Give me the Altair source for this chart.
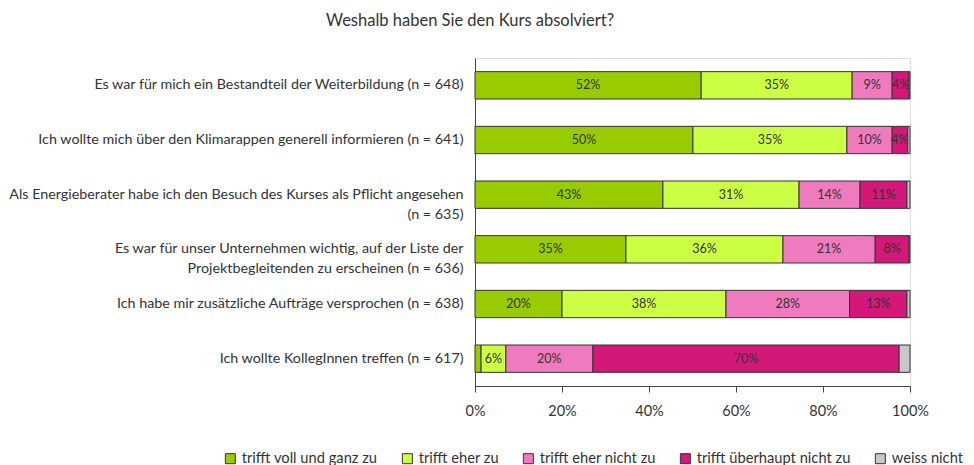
import altair as alt
import pandas as pd

questions = [
    "Es war für mich ein Bestandteil der Weiterbildung (n = 648)",
    "Ich wollte mich über den Klimarappen generell informieren (n = 641)",
    "Als Energieberater habe ich den Besuch des Kurses als Pflicht angesehen\n(n = 635)",
    "Es war für unser Unternehmen wichtig, auf der Liste der\nProjektbegleitenden zu erscheinen (n = 636)",
    "Ich habe mir zusätzliche Aufträge versprochen (n = 638)",
    "Ich wollte KollegInnen treffen (n = 617)",
]
categories = [
    "trifft voll und ganz zu",
    "trifft eher zu",
    "trifft eher nicht zu",
    "trifft überhaupt nicht zu",
    "weiss nicht",
]
colors = ["#99CC00", "#CCFF44", "#F07ABE", "#D4187A", "#C8C8C8"]

voll = [52.0, 50.1, 43.2, 34.7, 20.0, 1.4]
eher = [34.7, 35.4, 31.3, 36.1, 37.7, 5.7]
eher_nicht = [9.2, 10.4, 14.0, 21.2, 28.4, 20.0]
ueberhaupt = [3.9, 3.6, 10.8, 7.8, 13.2, 70.4]
weiss = [0.2, 0.5, 0.7, 0.2, 0.7, 2.5]

series = [voll, eher, eher_nicht, ueberhaupt, weiss]
rows = []
for ci, (cat, vals) in enumerate(zip(categories, series)):
    for qi, q in enumerate(questions):
        rows.append({"frage": q, "kategorie": cat, "ord": ci, "wert": vals[qi]})
df = pd.DataFrame(rows)

FONT = "Lato"
TXT = "#333333"

base = alt.Chart(df).transform_window(
    cum="sum(wert)", groupby=["frage"], sort=[alt.SortField("ord")]
).transform_calculate(
    mid="datum.cum - datum.wert / 2", label="round(datum.wert) + '%'"
)

y_enc = alt.Y(
    "frage:N",
    sort=questions,
    title=None,
    scale=alt.Scale(paddingInner=0.5, paddingOuter=0.25),
    axis=alt.Axis(
        labelExpr="split(datum.label, '\\n')",
        labelFont=FONT,
        labelFontSize=14.3,
        labelColor=TXT,
        labelLineHeight=20,
        labelPadding=12,
        labelLimit=700,
        ticks=False,
        domainColor="#444444",
    ),
)

bars = base.mark_bar(stroke="#333333", strokeWidth=1).encode(
    x=alt.X(
        "wert:Q",
        stack="zero",
        title=None,
        scale=alt.Scale(domain=[0, 100]),
        axis=alt.Axis(
            values=[0, 20, 40, 60, 80, 100],
            labelExpr="datum.value + '%'",
            labelFlush=False,
            grid=False,
            labelFont=FONT,
            labelFontSize=14.5,
            labelColor=TXT,
            tickColor="#444444",
            domainColor="#444444",
            tickSize=6,
            labelPadding=12,
        ),
    ),
    y=y_enc,
    color=alt.Color(
        "kategorie:N",
        sort=categories,
        scale=alt.Scale(domain=categories, range=colors),
        legend=alt.Legend(
            title=None,
            orient="none",
            direction="horizontal",
            legendX=-252,
            legendY=393,
            symbolType="square",
            symbolSize=100,
            symbolStrokeColor="#333333",
            symbolStrokeWidth=1,
            labelFont=FONT,
            labelFontSize=14.7,
            labelColor=TXT,
            labelOffset=4,
            columnPadding=22,
            padding=0,
        ),
    ),
    order=alt.Order("ord:Q"),
)

texts = base.transform_filter("datum.wert >= 3.5").mark_text(
    font=FONT, fontSize=12.5, color=TXT
).encode(
    x=alt.X("mid:Q"),
    y=alt.Y("frage:N", sort=questions),
    text="label:N",
)

chart = alt.layer(bars, texts).properties(
    width=435,
    height=328,
    padding={"left": 0, "top": 4, "right": 0, "bottom": 0},
    title=alt.TitleParams(
        "Weshalb haben Sie den Kurs absolviert?",
        font=FONT,
        fontSize=16.5,
        fontWeight="normal",
        color=TXT,
        anchor="start",
        frame="group",
        dx=-149,
        offset=29,
    ),
).configure_view(stroke=None).configure(background="white")

chart.save("out.html", embed_options={"renderer": "svg", "actions": False})
